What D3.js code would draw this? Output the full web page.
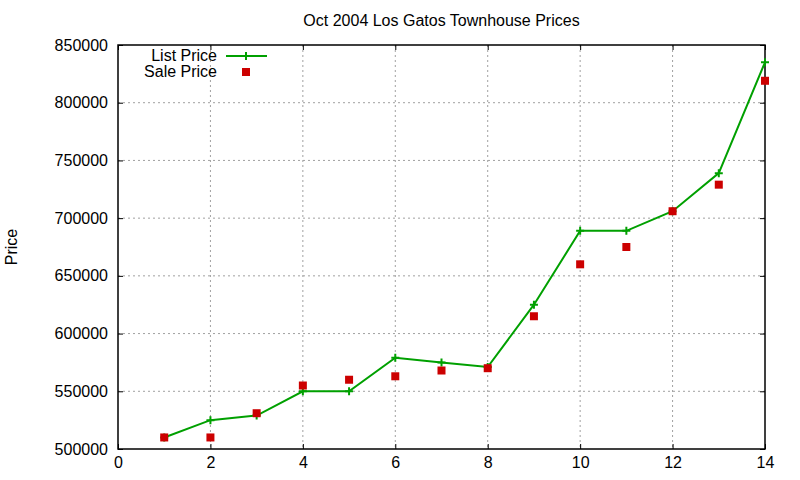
<!DOCTYPE html>
<html>
<head>
<meta charset="utf-8">
<script src="https://cdn.jsdelivr.net/npm/d3@7"></script>
<style>
  body { margin: 0; background: #fff; }
  svg { font-family: "Liberation Sans", Arial, sans-serif; }
  .grid line { stroke: #a0a0a0; stroke-dasharray: 2,3; }
</style>
</head>
<body>
<svg width="800" height="480"></svg>
<script>
// data
const houses = [1, 2, 3, 4, 5, 6, 7, 8, 9, 10, 11, 12, 13, 14];
const listPrice = [510000, 525000, 529000, 550000, 550000, 579000, 575000, 571000, 625000, 689000, 689000, 706000, 739000, 835000];
const salePrice = [510000, 510000, 531000, 555000, 560000, 563000, 568000, 570000, 615000, 660000, 675000, 706000, 729000, 819000];
const xTicks = [0, 2, 4, 6, 8, 10, 12, 14];
const yTicks = [500000, 550000, 600000, 650000, 700000, 750000, 800000, 850000];

const svg = d3.select("svg");
const mLeft = 118, mRight = 765, mTop = 45, mBottom = 449;
const fs = 16;

const x = d3.scaleLinear().domain([0, 14]).range([mLeft, mRight]);
const y = d3.scaleLinear().domain([500000, 850000]).range([mBottom, mTop]);

// grid
const grid = svg.append("g").attr("class", "grid");
grid.selectAll(".gx")
    .data(xTicks.slice(1, -1))
    .enter().append("line")
    .attr("x1", d => x(d)).attr("x2", d => x(d))
    .attr("y1", mTop).attr("y2", mBottom);
grid.selectAll(".gy")
    .data(yTicks.slice(1, -1))
    .enter().append("line")
    .attr("x1", mLeft).attr("x2", mRight)
    .attr("y1", d => y(d)).attr("y2", d => y(d));

// axes, ticks inside and mirrored
const tk = 5;
svg.append("g").attr("transform", "translate(0," + mBottom + ")")
    .call(d3.axisBottom(x).tickValues(xTicks).tickSizeInner(-tk).tickSizeOuter(0).tickPadding(8));
svg.append("g").attr("transform", "translate(0," + mTop + ")")
    .call(d3.axisTop(x).tickValues(xTicks).tickSizeInner(-tk).tickSizeOuter(0).tickFormat(""));
svg.append("g").attr("transform", "translate(" + mLeft + ",0)")
    .call(d3.axisLeft(y).tickValues(yTicks).tickSizeInner(-tk).tickSizeOuter(0).tickPadding(10).tickFormat(d3.format("d")));
svg.append("g").attr("transform", "translate(" + mRight + ",0)")
    .call(d3.axisRight(y).tickValues(yTicks).tickSizeInner(-tk).tickSizeOuter(0).tickFormat(""));

svg.selectAll(".domain").remove();
svg.selectAll(".tick line").attr("stroke", "#000");
svg.selectAll(".tick text").attr("font-size", fs).attr("fill", "#000")
    .attr("font-family", "Liberation Sans, Arial, sans-serif");

svg.append("rect")
    .attr("x", mLeft).attr("y", mTop)
    .attr("width", mRight - mLeft).attr("height", mBottom - mTop)
    .attr("fill", "none").attr("stroke", "#000").attr("stroke-width", 1.5);

// title and label
svg.append("text")
    .attr("x", (mLeft + mRight) / 2).attr("y", 26)
    .attr("text-anchor", "middle").attr("font-size", fs)
    .text("Oct 2004 Los Gatos Townhouse Prices");
svg.append("text")
    .attr("transform", "translate(17,247) rotate(-90)")
    .attr("text-anchor", "middle").attr("font-size", fs)
    .text("Price");

const green = "#00a000", red = "#cc0000";

function cross(g, cx, cy) {
    g.append("path")
        .attr("d", "M" + (cx - 4) + "," + cy + "H" + (cx + 4) + "M" + cx + "," + (cy - 4) + "V" + (cy + 4))
        .attr("stroke", green).attr("stroke-width", 2);
}

// list price line
const line = d3.line().x((d, i) => x(houses[i])).y(d => y(d));
svg.append("path")
    .datum(listPrice)
    .attr("d", line)
    .attr("fill", "none").attr("stroke", green).attr("stroke-width", 2);
const crosses = svg.append("g");
listPrice.forEach((v, i) => cross(crosses, x(houses[i]), y(v)));

// sale price squares
svg.append("g").selectAll("rect")
    .data(salePrice)
    .enter().append("rect")
    .attr("x", (d, i) => x(houses[i]) - 4)
    .attr("y", d => y(d) - 4)
    .attr("width", 8).attr("height", 8)
    .attr("fill", red);

// legend
const lg = svg.append("g");
lg.append("text").attr("x", 217).attr("y", 61).attr("text-anchor", "end")
    .attr("font-size", fs).text("List Price");
lg.append("line").attr("x1", 226).attr("x2", 267).attr("y1", 56).attr("y2", 56)
    .attr("stroke", green).attr("stroke-width", 2);
cross(lg, 246, 56);
lg.append("text").attr("x", 217).attr("y", 77).attr("text-anchor", "end")
    .attr("font-size", fs).text("Sale Price");
lg.append("rect").attr("x", 242).attr("y", 68).attr("width", 8).attr("height", 8)
    .attr("fill", red);
</script>
</body>
</html>
